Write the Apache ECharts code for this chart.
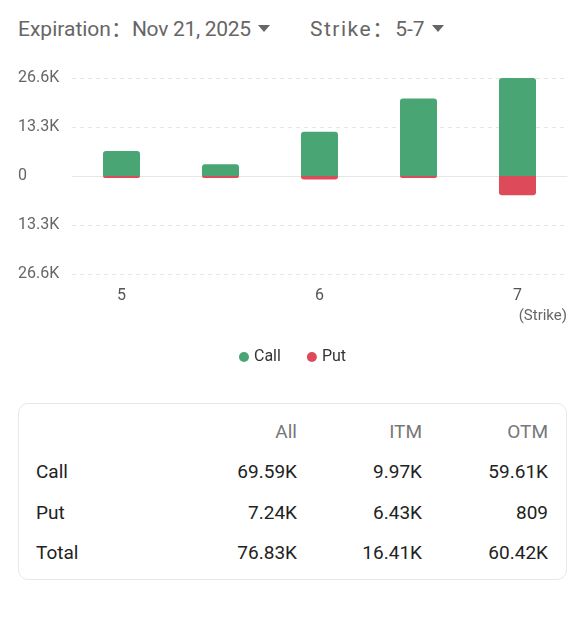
<!DOCTYPE html>
<html>
<head>
<meta charset="utf-8">
<script src="https://cdn.jsdelivr.net/npm/echarts@6/dist/echarts.min.js"></script>
<style>
  html, body { margin: 0; padding: 0; background: #fff; }
  body { width: 585px; height: 623px; position: relative; overflow: hidden; font-family: Roboto, "Noto Sans CJK SC", sans-serif; }
  .head { position: absolute; top: 15px; font-size: 21px; color: #666; white-space: nowrap; line-height: 28px; }
  .arrow { display: inline-block; width: 0; height: 0; border-left: 6px solid transparent; border-right: 6px solid transparent; border-top: 7px solid #666; vertical-align: middle; margin-left: 7px; margin-top: -3px; }
  #chart { position: absolute; left: 0; top: 0; width: 585px; height: 400px; }
  .box { position: absolute; left: 18px; top: 403px; width: 547px; height: 175px; border: 1px solid #e8e8e8; border-radius: 10px; }
  .cell { position: absolute; font-size: 19px; line-height: 24px; white-space: nowrap; color: #222; }
  .cell.hd { color: #777; }
</style>
</head>
<body>
<div class="head" style="left:18px">Expiration：<span style="letter-spacing:-0.3px">Nov 21, 2025</span><span class="arrow"></span></div>
<div class="head" style="left:310px"><span style="letter-spacing:1.5px">Strike</span>：<span style="margin-left:2px">5-7</span><span class="arrow"></span></div>
<div id="chart"></div>
<div class="box" id="box"></div>
<script>
// strikes and volumes
var strikes = ["5", "5.5", "6", "6.5", "7"];
var callVol = [6770, 3200, 12000, 21010, 26600];
var putVol = [400, 409, 950, 280, 5200];
var yTicks = [-26600, -13300, 0, 13300, 26600];

// summary table
var tableCols = ["All", "ITM", "OTM"];
var tableRows = ["Call", "Put", "Total"];
var tableVals = [
  ["69.59K", "9.97K", "59.61K"],
  ["7.24K", "6.43K", "809"],
  ["76.83K", "16.41K", "60.42K"]
];

var green = "#4aa574";
var red = "#dd4b5a";

var fmt = function (v) {
  if (v === 0) return "0";
  return (Math.abs(v) / 1000).toFixed(1) + "K";
};

var myChart = echarts.init(document.getElementById("chart"));
var option = {
  animation: false,
  color: [green, red],
  textStyle: { fontFamily: "Roboto, 'Noto Sans', sans-serif" },
  grid: { left: 72, right: 18, top: 78, bottom: 126 },
  legend: {
    data: ["Call", "Put"],
    top: 344,
    left: "center",
    icon: "circle",
    itemWidth: 10,
    itemHeight: 10,
    itemGap: 26,
    textStyle: { fontSize: 16, color: "#333" }
  },
  xAxis: {
    type: "category",
    data: strikes,
    axisTick: { show: false },
    axisLine: { lineStyle: { color: "#e6e6e6" } },
    axisLabel: { interval: 1, color: "#555", fontSize: 16, margin: 14 }
  },
  yAxis: {
    type: "value",
    min: yTicks[0],
    max: yTicks[yTicks.length - 1],
    interval: 13300,
    axisLine: { show: false },
    axisTick: { show: false },
    splitLine: { lineStyle: { color: "#e6e6e6", type: [4, 4] } },
    axisLabel: {
      color: "#666",
      fontSize: 16,
      align: "left",
      margin: 54,
      formatter: fmt
    }
  },
  graphic: [{
    type: "text",
    right: 18,
    top: 309,
    style: { text: "(Strike)", fill: "#666", font: "15px Roboto, 'Noto Sans', sans-serif" }
  }],
  series: [
    {
      name: "Call",
      type: "bar",
      stack: "vol",
      barWidth: 37,
      itemStyle: { borderRadius: [3, 3, 0, 0] },
      data: callVol
    },
    {
      name: "Put",
      type: "bar",
      stack: "vol",
      barWidth: 37,
      barMinHeight: 2,
      itemStyle: { borderRadius: [0, 0, 3, 3] },
      data: putVol.map(function (v) { return -v; })
    }
  ]
};
myChart.setOption(option);

// table cells
var box = document.getElementById("box");
var colRight = [298, 423, 549];
var rowMid = [472, 513, 553];
function addCell(text, cls, css) {
  var d = document.createElement("div");
  d.className = "cell" + (cls ? " " + cls : "");
  d.textContent = text;
  for (var k in css) d.style[k] = css[k];
  box.appendChild(d);
}
tableCols.forEach(function (c, j) {
  addCell(c, "hd", { right: (567 - colRight[j]) + "px", top: (432 - 12 - 404) + "px" });
});
tableRows.forEach(function (r, i) {
  addCell(r, "", { left: (36 - 19) + "px", top: (rowMid[i] - 12 - 404) + "px" });
  tableVals[i].forEach(function (v, j) {
    addCell(v, "", { right: (567 - colRight[j]) + "px", top: (rowMid[i] - 12 - 404) + "px" });
  });
});
</script>
</body>
</html>
